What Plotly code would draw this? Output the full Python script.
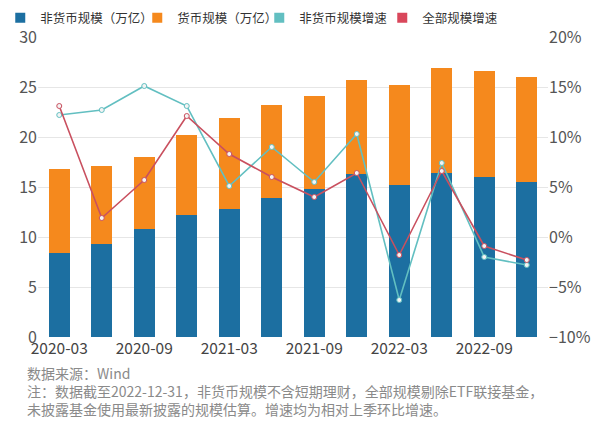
import plotly.graph_objects as go

quarters = ["2020-03", "2020-06", "2020-09", "2020-12", "2021-03", "2021-06",
            "2021-09", "2021-12", "2022-03", "2022-06", "2022-09", "2022-12"]
tick_labels = ["2020-03", "2020-09", "2021-03", "2021-09", "2022-03", "2022-09"]

non_money_scale = [8.4, 9.3, 10.8, 12.2, 12.8, 13.9, 14.8, 16.3, 15.2, 16.4, 16.0, 15.5]
money_scale = [8.4, 7.8, 7.2, 8.0, 9.1, 9.3, 9.3, 9.4, 10.0, 10.5, 10.6, 10.5]
non_money_growth = [12.2, 12.7, 15.1, 13.1, 5.1, 9.0, 5.5, 10.3, -6.3, 7.4, -2.0, -2.8]
total_growth = [13.1, 1.9, 5.7, 12.1, 8.3, 6.0, 4.0, 6.4, -1.8, 6.6, -0.9, -2.3]

series_names = ["非货币规模（万亿）", "货币规模（万亿）", "非货币规模增速", "全部规模增速"]
note_lines = [
    "数据来源：Wind",
    "注：数据截至2022-12-31，非货币规模不含短期理财，全部规模剔除ETF联接基金，",
    "未披露基金使用最新披露的规模估算。增速均为相对上季环比增速。",
]

FONT = "Noto Sans CJK SC"
BLUE = "#1c6fa1"
ORANGE = "#f5891d"
TEAL = "#62bfc1"
RED = "#c9505f"
swatch_colors = [BLUE, ORANGE, TEAL, "#d9475b"]
legend_widths = [92, 77, 78, 78]

fig = go.Figure()
fig.add_trace(go.Bar(x=quarters, y=non_money_scale, name=series_names[0], showlegend=False,
                     marker=dict(color=BLUE, line=dict(width=0)), width=0.5))
fig.add_trace(go.Bar(x=quarters, y=money_scale, name=series_names[1], showlegend=False,
                     marker=dict(color=ORANGE, line=dict(width=0)), width=0.5))
fig.add_trace(go.Scatter(x=quarters, y=non_money_growth, name=series_names[2],
                         yaxis="y2", mode="lines+markers", showlegend=False,
                         line=dict(color=TEAL, width=1.6),
                         marker=dict(size=5, color="#f4f4f4", line=dict(color=TEAL, width=1))))
fig.add_trace(go.Scatter(x=quarters, y=total_growth, name=series_names[3],
                         yaxis="y2", mode="lines+markers", showlegend=False,
                         line=dict(color=RED, width=1.6),
                         marker=dict(size=5, color="#f4f4f4", line=dict(color=RED, width=1))))
# square legend swatches for all four series
for nm, col, lw in zip(series_names, swatch_colors, legend_widths):
    fig.add_trace(go.Scatter(x=[None], y=[None], name=nm, mode="markers",
                             yaxis="y2", legendwidth=lw,
                             marker=dict(symbol="square", size=10, color=col)))

# page body adds an 8px offset; margins are set to compensate
fig.update_layout(
    width=600, height=429,
    barmode="stack",
    plot_bgcolor="white", paper_bgcolor="white",
    margin=dict(l=30, r=60, t=29, b=100, autoexpand=False),
    font=dict(family=FONT, color="#555555", size=14),
    showlegend=True,
    legend=dict(orientation="h", x=-0.074, xanchor="left",
                y=1.113, yanchor="top",
                font=dict(size=12.5, color="#333333"),
                traceorder="normal", itemclick=False, itemwidth=30,
                bgcolor="rgba(0,0,0,0)"),
    xaxis=dict(type="category", categoryorder="array", categoryarray=quarters,
               tickmode="array", tickvals=tick_labels, ticktext=tick_labels,
               showgrid=False, showline=False, ticks="", range=[-0.5, 11.5],
               tickfont=dict(size=15.5, color="#444444"), automargin=False),
    yaxis=dict(range=[0, 30], dtick=5, showgrid=True, gridcolor="#e6e6e6",
               zeroline=False, showline=False, ticks="", automargin=False,
               tickfont=dict(size=16, color="#555555")),
    yaxis2=dict(range=[-10, 20], dtick=5, overlaying="y", side="right",
                showgrid=False, zeroline=False, showline=False, ticks="",
                automargin=False, ticksuffix="%", tickfont=dict(size=16, color="#555555")),
)

fig.add_annotation(text="<br>".join(note_lines), xref="paper", yref="paper",
                   x=-0.025, y=-0.08, xanchor="left", yanchor="top", align="left",
                   showarrow=False,
                   font=dict(size=14, color="#8a8a8a", family=FONT))

fig.write_html("out.html")
